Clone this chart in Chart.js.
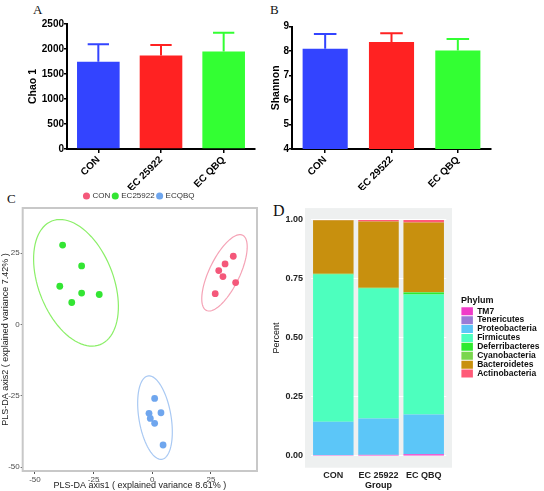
<!DOCTYPE html>
<html>
<head>
<meta charset="utf-8">
<script src="https://cdn.jsdelivr.net/npm/chart.js@4.4.0/dist/chart.umd.min.js"></script>
<style>
  body { margin: 0; background: #fff; width: 544px; height: 491px; position: relative; overflow: hidden; }
  canvas { position: absolute; }
  .lbl { position: absolute; font-family: "Liberation Serif", "DejaVu Serif", serif; line-height: 1; color: #111; }
</style>
</head>
<body>
<div class="lbl" style="left:33px;top:2.7px;font-size:13px">A</div>
<div class="lbl" style="left:270px;top:2.7px;font-size:13px">B</div>
<div class="lbl" style="left:7px;top:191.7px;font-size:13px">C</div>
<div class="lbl" style="left:273px;top:203.2px;font-size:16px">D</div>

<canvas id="chartA" width="265" height="190" style="left:0;top:0"></canvas>
<canvas id="chartB" width="274" height="190" style="left:270px;top:0"></canvas>
<canvas id="chartC" width="270" height="306" style="left:0;top:185px"></canvas>
<canvas id="chartD" width="274" height="296" style="left:270px;top:195px"></canvas>

<script>
// ---- A / B : alpha diversity ----
var groupsA = ['CON', 'EC 25922', 'EC QBQ'];
var groupsB = ['CON', 'EC 29522', 'EC QBQ'];
var barColors = ['#3344ff', '#ff2222', '#33ff33'];
var chaoMean = [1745, 1870, 1950];
var chaoUpper = [2095, 2080, 2325];
var shannonMean = [8.10, 8.37, 8.03];
var shannonUpper = [8.70, 8.73, 8.50];

// ---- C : PLS-DA ----
var plsGroups = ['CON', 'EC25922', 'ECQBQ'];
var plsColors = ['#f4587a', '#33e533', '#6fa6ee'];
var plsRing = ['#f5a3b6', '#8bef68', '#a9c9f3'];
var conX = [34.5, 31.0, 28.3, 30.1, 35.5, 26.8];
var conY = [23.9, 21.2, 18.9, 16.8, 14.7, 10.8];
var ec25922X = [-38.2, -30.1, -39.4, -30.1, -22.6, -34.3];
var ec25922Y = [27.8, 20.5, 13.4, 11.0, 10.5, 7.7];
var ecqbqX = [1.0, -1.4, 3.7, -0.85, 1.0, 4.6];
var ecqbqY = [-25.9, -31.1, -30.9, -32.9, -34.6, -42.2];
var ellipseCenter = [[30.75, 18.1], [-32.5, 14.6], [1.15, -32.6]];
var ellipseRadii = [[15.3, 6.2], [24.1, 15.4], [14.9, 6.8]];
var ellipseAngle = [57.9, 120.6, 102.5];
var plsTicks = [-50, -25, 0, 25];

// ---- D : phylum composition ----
var groupsD = ['CON', 'EC 25922', 'EC QBQ'];
var phyla = ['TM7', 'Tenericutes', 'Proteobacteria', 'Firmicutes', 'Deferribacteres', 'Cyanobacteria', 'Bacteroidetes', 'Actinobacteria'];
var phylaColors = ['#f03cc8', '#9a7bd6', '#5cc6f8', '#4dffbe', '#2eea2e', '#7ad64e', '#c8900e', '#ff5a78'];
var tm7 = [0.003, 0.004, 0.007];
var tenericutes = [0.001, 0.001, 0.001];
var proteobacteria = [0.141, 0.154, 0.167];
var firmicutes = [0.624, 0.550, 0.509];
var deferribacteres = [0.002, 0.002, 0.008];
var cyanobacteria = [0.001, 0.001, 0.002];
var bacteroidetes = [0.226, 0.281, 0.295];
var actinobacteria = [0.002, 0.007, 0.011];
var percentTicks = [0, 0.25, 0.5, 0.75, 1];

Chart.defaults.font.family = "'Liberation Sans', Arial, sans-serif";
Chart.defaults.animation = false;
Chart.defaults.responsive = false;

// upper whisker with cap
var errorBars = {
  id: 'errorBars',
  afterDatasetsDraw: function (chart, args, o) {
    var ctx = chart.ctx, y = chart.scales.y;
    ctx.save();
    ctx.lineWidth = 2;
    chart.getDatasetMeta(0).data.forEach(function (bar, i) {
      var top = y.getPixelForValue(o.upper[i]);
      var half = bar.width / 4;
      ctx.strokeStyle = o.colors[i];
      ctx.beginPath();
      ctx.moveTo(bar.x, bar.y);
      ctx.lineTo(bar.x, top);
      ctx.moveTo(bar.x - half, top);
      ctx.lineTo(bar.x + half, top);
      ctx.stroke();
    });
    ctx.restore();
  }
};

var frame = {
  id: 'frame',
  afterDraw: function (chart, args, o) {
    var c = chart.chartArea, ctx = chart.ctx;
    ctx.save();
    ctx.strokeStyle = o.color;
    ctx.lineWidth = o.width;
    ctx.strokeRect(c.left, c.top, c.right - c.left, c.bottom - c.top);
    ctx.restore();
  }
};

var panelBg = {
  id: 'panelBg',
  beforeDraw: function (chart, args, o) {
    var c = chart.chartArea, ctx = chart.ctx;
    ctx.save();
    ctx.fillStyle = o.color;
    ctx.fillRect(c.left - o.padX, c.top, c.right - c.left + 2 * o.padX, c.bottom - c.top);
    ctx.restore();
  }
};

var legendShift = {
  id: 'legendShift',
  afterLayout: function (chart, args, o) {
    var l = chart.legend;
    l.left += o.dx; l.right += o.dx;
    l.top += o.dy; l.bottom += o.dy;
  }
};

var ellipses = {
  id: 'ellipses',
  beforeDatasetsDraw: function (chart) {
    var xs = chart.scales.x, ys = chart.scales.y, ctx = chart.ctx;
    ctx.save();
    ctx.lineWidth = 1.2;
    ellipseCenter.forEach(function (cen, k) {
      var a = ellipseRadii[k][0], b = ellipseRadii[k][1];
      var phi = ellipseAngle[k] * Math.PI / 180;
      ctx.strokeStyle = plsRing[k];
      ctx.beginPath();
      for (var s = 0; s <= 90; s++) {
        var t = s / 90 * 2 * Math.PI;
        var x = cen[0] + a * Math.cos(t) * Math.cos(phi) - b * Math.sin(t) * Math.sin(phi);
        var y = cen[1] + a * Math.cos(t) * Math.sin(phi) + b * Math.sin(t) * Math.cos(phi);
        var px = xs.getPixelForValue(x), py = ys.getPixelForValue(y);
        if (s === 0) ctx.moveTo(px, py); else ctx.lineTo(px, py);
      }
      ctx.stroke();
    });
    ctx.restore();
  }
};

function alphaChart(id, labels, values, upper, yMin, yMax, step, title, pad, yWidth) {
  return new Chart(document.getElementById(id), {
    type: 'bar',
    data: {
      labels: labels,
      datasets: [{ data: values, backgroundColor: barColors, categoryPercentage: 1, barPercentage: 0.68 }]
    },
    options: {
      layout: { padding: pad },
      plugins: {
        legend: { display: false },
        tooltip: { enabled: false },
        errorBars: { upper: upper, colors: barColors }
      },
      scales: {
        x: {
          grid: { offset: false, drawOnChartArea: false, tickLength: 4, color: '#000', lineWidth: 1.5 },
          border: { color: '#000', width: 2 },
          ticks: { color: '#000', minRotation: 45, maxRotation: 45, padding: 1, font: { size: 10, weight: 'bold' } },
          afterFit: function (s) { s.height = 41; }
        },
        y: {
          min: yMin, max: yMax,
          grid: { drawOnChartArea: false, tickLength: 3, color: '#000', lineWidth: 1.5 },
          border: { color: '#000', width: 2 },
          ticks: { stepSize: step, color: '#000', padding: 0, font: { size: 10, weight: 'bold' }, callback: function (v) { return String(v); } },
          title: { display: true, text: title, color: '#000', padding: 0, font: { size: 10.5, weight: 'bold' } },
          afterFit: function (s) { s.width = yWidth; }
        }
      }
    },
    plugins: [errorBars]
  });
}

alphaChart('chartA', groupsA, chaoMean, chaoUpper, 0, 2500, 500, 'Chao 1', { left: 27, top: 24, right: 10, bottom: 0 }, 40);
alphaChart('chartB', groupsB, shannonMean, shannonUpper, 4, 9, 1, 'Shannon', { left: 0, top: 26.7, right: 53, bottom: 0 }, 22);

// ---- C ----
function pts(xs, ys) {
  return xs.map(function (x, i) { return { x: x, y: ys[i] }; });
}
var plsData = [pts(conX, conY), pts(ec25922X, ec25922Y), pts(ecqbqX, ecqbqY)];

new Chart(document.getElementById('chartC'), {
  type: 'scatter',
  data: {
    datasets: plsGroups.map(function (g, k) {
      return { label: g, data: plsData[k], backgroundColor: plsColors[k], borderColor: plsColors[k], borderWidth: 0, pointRadius: 3.4 };
    })
  },
  options: {
    layout: { padding: { left: 0, top: 2, right: 13, bottom: 0 } },
    plugins: {
      legend: {
        position: 'top',
        labels: { usePointStyle: true, pointStyle: 'circle', boxWidth: 4, boxHeight: 5, padding: 3, color: '#333', font: { size: 8 } }
      },
      tooltip: { enabled: false },
      frame: { color: '#c8c8c8', width: 2 },
      legendShift: { dx: 11, dy: 2 }
    },
    scales: {
      x: {
        min: -55.2, max: 44.6,
        afterBuildTicks: function (s) { s.ticks = plsTicks.map(function (v) { return { value: v }; }); },
        grid: { drawOnChartArea: false, tickLength: 3, color: '#555' },
        border: { display: false },
        ticks: { color: '#4d4d4d', padding: 1, font: { size: 8 } },
        title: { display: true, text: 'PLS-DA axis1 ( explained variance 8.61% )', color: '#222', padding: 0, font: { size: 9 } },
        afterFit: function (s) { s.height = 20; }
      },
      y: {
        min: -51.3, max: 40.8,
        afterBuildTicks: function (s) { s.ticks = plsTicks.map(function (v) { return { value: v }; }); },
        grid: { drawOnChartArea: false, tickLength: 2, color: '#555' },
        border: { display: false },
        ticks: { color: '#4d4d4d', padding: 1, font: { size: 8 } },
        title: { display: true, text: 'PLS-DA axis2 ( explained variance 7.42% )', color: '#222', padding: 0, font: { size: 9 } },
        afterFit: function (s) { s.width = 22.7; }
      }
    }
  },
  plugins: [ellipses, frame, legendShift]
});

// ---- D ----
var phylaValues = [tm7, tenericutes, proteobacteria, firmicutes, deferribacteres, cyanobacteria, bacteroidetes, actinobacteria];

new Chart(document.getElementById('chartD'), {
  type: 'bar',
  data: {
    labels: groupsD,
    datasets: phyla.map(function (p, k) {
      return { label: p, data: phylaValues[k], backgroundColor: phylaColors[k], borderColor: phylaColors[k], borderWidth: 0, categoryPercentage: 1, barPercentage: 0.896 };
    })
  },
  options: {
    layout: { padding: { left: 0, top: 10.7, right: 14.7, bottom: 0 } },
    plugins: {
      legend: {
        position: 'right',
        align: 'start',
        maxWidth: 83,
        title: { display: true, text: 'Phylum', color: '#111', padding: 0, position: 'start', font: { size: 9, weight: 'bold' } },
        labels: { boxWidth: 11.5, boxHeight: 8, padding: 0.4, color: '#111', font: { size: 8.5, weight: 'bold' } }
      },
      tooltip: { enabled: false },
      panelBg: { color: '#eef0f0', padX: 5.7 },
      legendShift: { dx: 14.7, dy: 90.1 }
    },
    scales: {
      x: {
        stacked: true,
        grid: { display: false, drawTicks: false },
        border: { display: false },
        ticks: { color: '#222', padding: 2, autoSkip: false, minRotation: 0, maxRotation: 0, font: { size: 9, weight: 'bold' } },
        title: { display: true, text: 'Group', color: '#111', padding: 0, font: { size: 9, weight: 'bold' } },
        afterFit: function (s) { s.height = 23.3; }
      },
      y: {
        stacked: true,
        min: -0.05, max: 1.05,
        afterBuildTicks: function (s) { s.ticks = percentTicks.map(function (v) { return { value: v }; }); },
        grid: { color: '#ffffff', lineWidth: 1, drawTicks: false },
        border: { display: false },
        ticks: { color: '#222', padding: 7.7, font: { size: 9, weight: 'bold' }, callback: function (v) { return v.toFixed(2); } },
        title: { display: true, text: 'Percent', color: '#111', padding: { top: 1, bottom: 0 }, font: { size: 9 } },
        afterFit: function (s) { s.width = 40.7; }
      }
    }
  },
  plugins: [panelBg, legendShift]
});
</script>
</body>
</html>
